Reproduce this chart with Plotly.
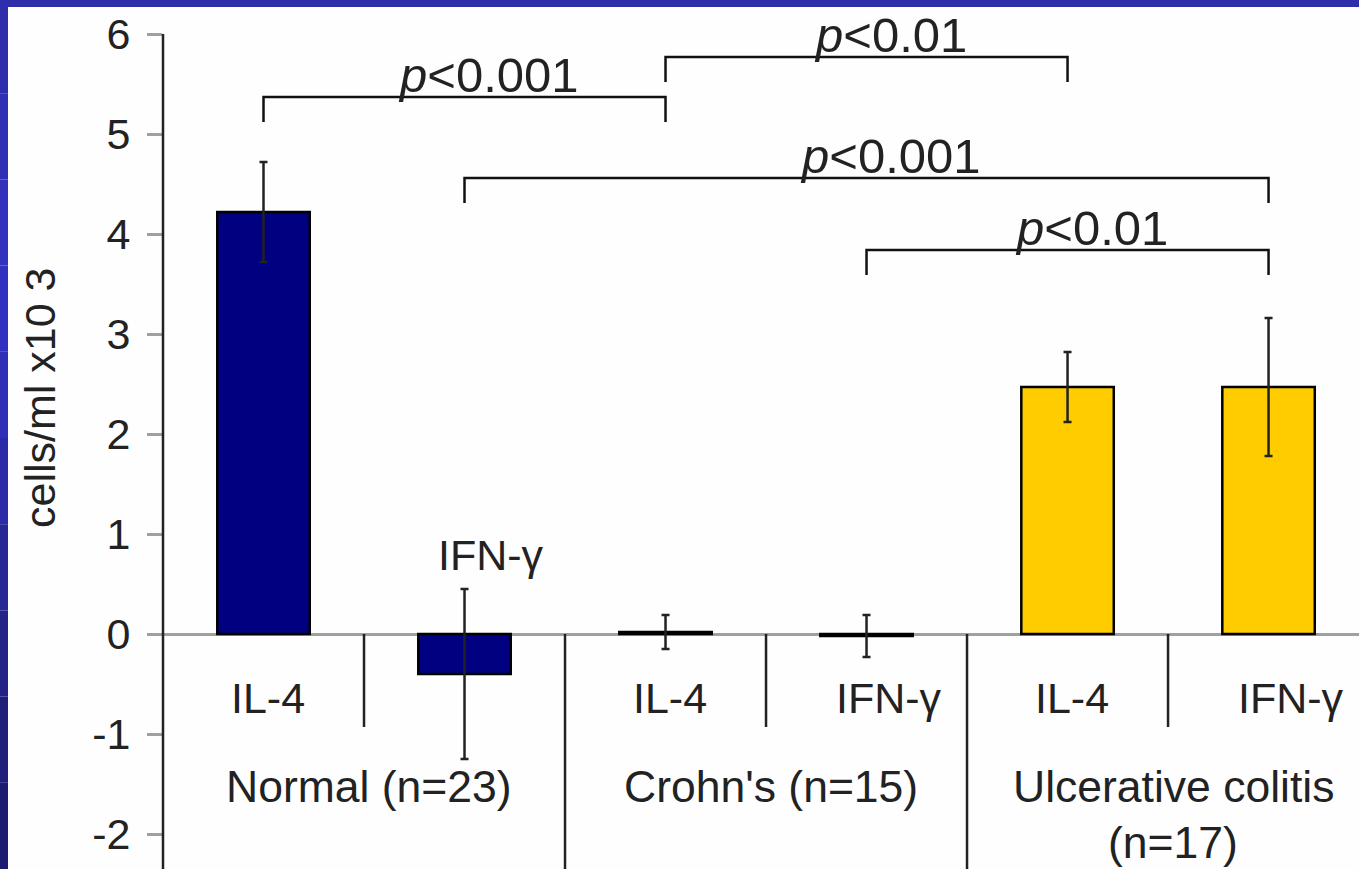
import plotly.graph_objects as go

# ---- data ----
slots = [0, 1, 2, 3, 4, 5]
cytokines = ["IL-4", "IFN-γ", "IL-4", "IFN-γ", "IL-4", "IFN-γ"]
groups = ["Normal (n=23)", "Crohn's (n=15)", "Ulcerative colitis", "(n=17)"]
values = [4.22, -0.40, 0.02, -0.02, 2.47, 2.47]
errors = [0.50, 0.85, 0.17, 0.21, 0.35, 0.69]
bar_colors = ["#000080", "#000080", "#000080", "#000080", "#FFCC00", "#FFCC00"]
y_ticks = [-2, -1, 0, 1, 2, 3, 4, 5, 6]
# brackets: (left slot, right slot, height, label)
brackets = [
    (0, 2, 5.37, "<i>p</i>&lt;0.001"),
    (2, 4, 5.77, "<i>p</i>&lt;0.01"),
    (1, 5, 4.56, "<i>p</i>&lt;0.001"),
    (3, 5, 3.84, "<i>p</i>&lt;0.01"),
]

FONT = "Arial, Liberation Sans, sans-serif"
TXT = "#222222"
W, H = 1359, 869
L, R, T, B = 163, 0, 7, 0
PW, PH = W - L - R, H - T - B
YMIN, YMAX = -2.35, 6.27
XMIN, XMAX = -0.5, 5.45

fig = go.Figure()
fig.add_trace(go.Bar(
    x=slots, y=values, width=0.46,
    marker=dict(color=bar_colors, line=dict(color="#000000", width=2.5)),
    error_y=dict(type="data", array=errors, visible=True, color="#222222",
                 thickness=2.5, width=4),
    showlegend=False, hoverinfo="skip",
))

shapes = []
# y axis line
shapes.append(dict(type="line", xref="paper", yref="y", x0=0, x1=0, y0=YMIN, y1=6,
                   line=dict(color="#222222", width=2.5)))
# dividers below zero line
for b in [0.5, 2.5, 4.5]:
    shapes.append(dict(type="line", xref="x", yref="y", x0=b, x1=b, y0=0, y1=-0.93,
                       line=dict(color="#222222", width=2.5)))
for b in [1.5, 3.5]:
    shapes.append(dict(type="line", xref="x", yref="y", x0=b, x1=b, y0=0, y1=YMIN,
                       line=dict(color="#222222", width=2.5)))
annotations = []
for (a, b, h, lab) in brackets:
    shapes.append(dict(type="path", xref="x", yref="y",
                       path=f"M {a},{h-0.25} L {a},{h} L {b},{h} L {b},{h-0.25}",
                       line=dict(color="#111111", width=2.5)))
    annotations.append(dict(x=(a + b) / 2, y=h, xref="x", yref="y", text=lab,
                            showarrow=False, yanchor="bottom", xshift=24, yshift=-7,
                            font=dict(family=FONT, size=49, color=TXT)))

# category labels
for i, c in enumerate(cytokines):
    if i == 1:
        annotations.append(dict(x=i, y=0.79, xref="x", yref="y", text=c, showarrow=False,
                                xshift=26, font=dict(family=FONT, size=43, color=TXT)))
    else:
        annotations.append(dict(x=i, y=-0.64, xref="x", yref="y", text=c, showarrow=False,
                                xshift=(22 if "IFN" in c else 4),
                                font=dict(family=FONT, size=43, color=TXT)))
group_pos = [(0.5, -1.52), (2.5, -1.52), (4.5, -1.52), (4.5, -2.08)]
for g, (gx, gy) in zip(groups, group_pos):
    annotations.append(dict(x=gx, y=gy, xref="x", yref="y", text=g, showarrow=False,
                            xshift=5, font=dict(family=FONT, size=44.5, color=TXT)))
# y title
annotations.append(dict(x=(40 - L) / PW, y=2.36, xref="paper", yref="y",
                        xanchor="center", yanchor="middle",
                        text="cells/ml x10 3", textangle=-90, showarrow=False,
                        font=dict(family=FONT, size=43, color=TXT)))

# slide border (blue)
def px_x(p):
    return (p - L) / PW
def px_y(p):
    return (H - B - p) / PH
shapes.append(dict(type="rect", xref="paper", yref="paper", x0=px_x(0), x1=px_x(W),
                   y0=px_y(7), y1=px_y(0), fillcolor="#2E2EAC", line=dict(width=0), layer="above"))
strip_cols = ["#2E2EAC", "#3030B4", "#3232BC", "#3131C0", "#2F2FB8", "#2B2BA8",
              "#272796", "#232386", "#20207A", "#1D1D70"]
n = len(strip_cols)
for k, col in enumerate(strip_cols):
    y0p = 7 + (H - 7) * k / n
    y1p = 7 + (H - 7) * (k + 1) / n
    shapes.append(dict(type="rect", xref="paper", yref="paper", x0=px_x(0), x1=px_x(8),
                       y0=px_y(y1p), y1=px_y(y0p), fillcolor=col, line=dict(width=0),
                       layer="above"))

fig.update_layout(
    width=W, height=H,
    margin=dict(l=L, r=R, t=T, b=B, pad=0),
    paper_bgcolor="#FEFEFE", plot_bgcolor="#FEFEFE",
    shapes=shapes, annotations=annotations,
    xaxis=dict(range=[XMIN, XMAX], showticklabels=False, ticks="", showgrid=False,
               zeroline=False, showline=False, fixedrange=True),
    yaxis=dict(range=[YMIN, YMAX], tickvals=y_ticks, ticktext=[str(v) for v in y_ticks],
               ticks="outside", ticklen=15, tickwidth=2.5, tickcolor="#A0A0A0",
               ticklabelstandoff=8,
               tickfont=dict(family=FONT, size=43, color=TXT),
               showgrid=False, showline=False, zeroline=True, zerolinecolor="#A0A0A0",
               zerolinewidth=3, fixedrange=True),
    bargap=0.5,
)

fig.write_html("out.html")
